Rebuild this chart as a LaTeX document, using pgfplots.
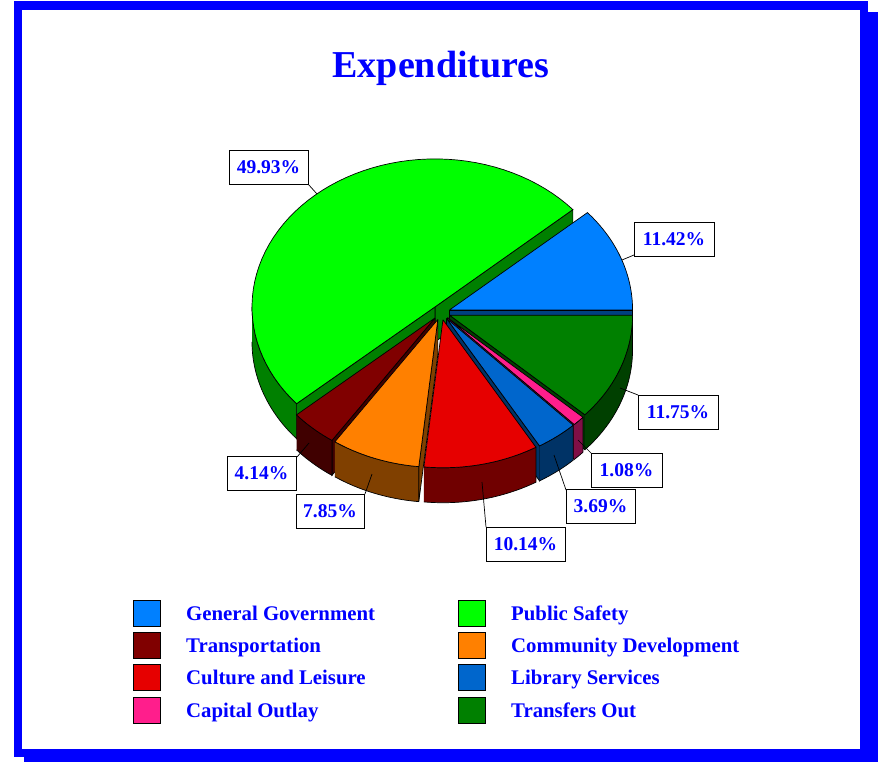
\documentclass[border=0pt]{standalone}
\usepackage{pgfplots}
\pgfplotsset{compat=1.18}
\usepackage{pgfplotstable}
\usepackage{fontspec}
\setmainfont{Liberation Serif}

\definecolor{frameblue}{RGB}{0,0,255}
\definecolor{txtblue}{RGB}{0,0,255}
\definecolor{ggtop}{RGB}{0,128,255}\definecolor{ggside}{RGB}{0,64,128}
\definecolor{pstop}{RGB}{0,255,0}\definecolor{psside}{RGB}{0,128,0}
\definecolor{trtop}{RGB}{128,0,0}\definecolor{trside}{RGB}{64,0,0}
\definecolor{cdtop}{RGB}{255,128,0}\definecolor{cdside}{RGB}{128,64,0}
\definecolor{cltop}{RGB}{230,0,0}\definecolor{clside}{RGB}{112,0,0}
\definecolor{lstop}{RGB}{0,102,204}\definecolor{lsside}{RGB}{0,51,102}
\definecolor{cotop}{RGB}{255,30,140}\definecolor{coside}{RGB}{128,15,70}
\definecolor{totop}{RGB}{0,128,0}\definecolor{toside}{RGB}{0,64,0}

% Expenditure shares (percent), in pie order starting at 0 deg, counter-clockwise
\pgfplotstableread{
name pct
GeneralGovernment 11.42
PublicSafety 49.93
Transportation 4.14
CommunityDevelopment 7.85
CultureLeisure 10.14
LibraryServices 3.69
CapitalOutlay 1.08
TransfersOut 11.75
}\datatable

% cumulative angles
\expandafter\xdef\csname A0\endcsname{0}
\foreach \i in {0,...,7}{%
  \pgfplotstablegetelem{\i}{pct}\of\datatable
  \pgfmathsetmacro\tmp{\csname A\i\endcsname + 3.6*\pgfplotsretval}%
  \pgfmathtruncatemacro\j{\i+1}%
  \expandafter\xdef\csname A\j\endcsname{\tmp}%
}

% pie geometry (picture units = px)
\def\CX{441}\def\CY{312.5}\def\RX{183}\def\RY{148}\def\DD{35}\def\EXP{0.05}

\newcommand\wall[2]{%
 \pgfmathsetmacro\px{\X+\RX*cos(#1)}%
 \pgfmathsetmacro\py{\Y-\RY*sin(#1)}%
 \pgfmathsetmacro\pyb{\py+\DD}%
 \edef\doit{\noexpand\addplot[fill=#2,draw=black,line width=0.7pt] coordinates {(\X,\Y) (\px,\py) (\px,\pyb) (\X,\Yb) (\X,\Y)};}%
 \doit}

\newcommand\slice[3]{%
 \pgfmathsetmacro\sA{\csname A#1\endcsname}%
 \pgfmathtruncatemacro\nx{#1+1}%
 \pgfmathsetmacro\sB{\csname A\nx\endcsname}%
 \pgfmathsetmacro\sM{(\sA+\sB)/2}%
 \pgfmathsetmacro\X{\CX+\EXP*\RX*cos(\sM)}%
 \pgfmathsetmacro\Y{\CY-\EXP*\RY*sin(\sM)}%
 \pgfmathsetmacro\Yb{\Y+\DD}%
 \pgfmathsetmacro\vis{cos(\sA)>0.001}%
 \ifdim\vis pt>0.5pt \wall{\sA}{#3}\fi
 \pgfmathsetmacro\vis{cos(\sB)<-0.001}%
 \ifdim\vis pt>0.5pt \wall{\sB}{#3}\fi
 \pgfmathsetmacro\sLo{max(\sA,180)}%
 \pgfmathsetmacro\sHi{min(\sB,360)}%
 \pgfmathsetmacro\vis{\sHi-\sLo>0.01}%
 \ifdim\vis pt>0.5pt
   \edef\doit{\noexpand\addplot[fill=#3,draw=black,line width=0.7pt,domain=0:121,samples=122]
     ({\X+\RX*cos(\sLo+(\sHi-\sLo)*((1-(x>60.5))*x+(x>60.5)*(121-x))/60)},
      {\Y-\RY*sin(\sLo+(\sHi-\sLo)*((1-(x>60.5))*x+(x>60.5)*(121-x))/60)+(x>60.5)*\DD});}%
   \doit
 \fi
 \edef\doit{\noexpand\addplot[fill=#2,draw=black,line width=0.7pt,domain=-1:61,samples=63]
   ({\X+(x>-0.5)*(x<60.5)*\RX*cos(\sA+(\sB-\sA)*min(max(x,0),60)/60)},
    {\Y-(x>-0.5)*(x<60.5)*\RY*sin(\sA+(\sB-\sA)*min(max(x,0),60)/60)});}%
 \doit
}

\tikzset{lbl/.style={draw=black, fill=white, line width=0.8pt, text=txtblue,
  font=\fontsize{19.5}{22}\selectfont\bfseries, inner sep=0pt,
  minimum width=#1, minimum height=34pt},
  lead/.style={draw=black, line width=0.7pt},
  legtxt/.style={text=txtblue, font=\fontsize{20.8}{24}\selectfont\bfseries, inner sep=0pt, anchor=base west}}

\begin{document}
\begin{tikzpicture}
\begin{axis}[scale only axis, width=878pt, height=762pt,
  xmin=0, xmax=878, ymin=0, ymax=762, y dir=reverse,
  hide axis, clip=false]
\path (axis cs:0,0) rectangle (axis cs:878,762);
% frame with shadow
\fill[frameblue] (axis cs:24,12) rectangle (axis cs:878,762);
\fill[frameblue] (axis cs:14,1) rectangle (axis cs:868,757);
\fill[white] (axis cs:22,10) rectangle (axis cs:860,749);

% title
\node[text=txtblue, font=\fontsize{38}{44}\selectfont\bfseries, anchor=base, inner sep=0pt] at (axis cs:441,78) {Expenditures};

% pie slices, back to front
\slice{1}{pstop}{psside}
\slice{0}{ggtop}{ggside}
\slice{7}{totop}{toside}
\slice{6}{cotop}{coside}
\slice{2}{trtop}{trside}
\slice{5}{lstop}{lsside}
\slice{3}{cdtop}{cdside}
\slice{4}{cltop}{clside}

% leader lines
\draw[lead] (axis cs:308,184) -- (axis cs:317,194);
\draw[lead] (axis cs:634,255) -- (axis cs:622,260);
\draw[lead] (axis cs:638,395) -- (axis cs:620,388);
\draw[lead] (axis cs:591,453) -- (axis cs:578,440);
\draw[lead] (axis cs:566,490) -- (axis cs:554,455);
\draw[lead] (axis cs:486,527) -- (axis cs:482,482);
\draw[lead] (axis cs:365,494) -- (axis cs:372,474);
\draw[lead] (axis cs:297,457) -- (axis cs:309,443);

% value labels
\node[lbl=79pt] at (axis cs:268.5,167.5) {49.93\%};
\node[lbl=80pt] at (axis cs:674,239) {11.42\%};
\node[lbl=80pt] at (axis cs:678,412) {11.75\%};
\node[lbl=71pt] at (axis cs:626.5,470) {1.08\%};
\node[lbl=69pt] at (axis cs:600.5,506.5) {3.69\%};
\node[lbl=79pt] at (axis cs:525.5,544.5) {10.14\%};
\node[lbl=68pt] at (axis cs:330,511) {7.85\%};
\node[lbl=69pt] at (axis cs:261.5,473.5) {4.14\%};

% legend
\draw[fill=ggtop, draw=black, line width=0.7pt] (axis cs:133,600) rectangle (axis cs:160,626);
\node[legtxt] at (axis cs:186,620) {General Government};
\draw[fill=pstop, draw=black, line width=0.7pt] (axis cs:458,600) rectangle (axis cs:485,626);
\node[legtxt] at (axis cs:511,620) {Public Safety};
\draw[fill=trtop, draw=black, line width=0.7pt] (axis cs:133,632) rectangle (axis cs:160,658);
\node[legtxt] at (axis cs:186,652) {Transportation};
\draw[fill=cdtop, draw=black, line width=0.7pt] (axis cs:458,632) rectangle (axis cs:485,658);
\node[legtxt] at (axis cs:511,652) {Community Development};
\draw[fill=cltop, draw=black, line width=0.7pt] (axis cs:133,664) rectangle (axis cs:160,690);
\node[legtxt] at (axis cs:186,684) {Culture and Leisure};
\draw[fill=lstop, draw=black, line width=0.7pt] (axis cs:458,664) rectangle (axis cs:485,690);
\node[legtxt] at (axis cs:511,684) {Library Services};
\draw[fill=cotop, draw=black, line width=0.7pt] (axis cs:133,697) rectangle (axis cs:160,723);
\node[legtxt] at (axis cs:186,717) {Capital Outlay};
\draw[fill=totop, draw=black, line width=0.7pt] (axis cs:458,697) rectangle (axis cs:485,723);
\node[legtxt] at (axis cs:511,717) {Transfers Out};
\end{axis}
\end{tikzpicture}
\end{document}
